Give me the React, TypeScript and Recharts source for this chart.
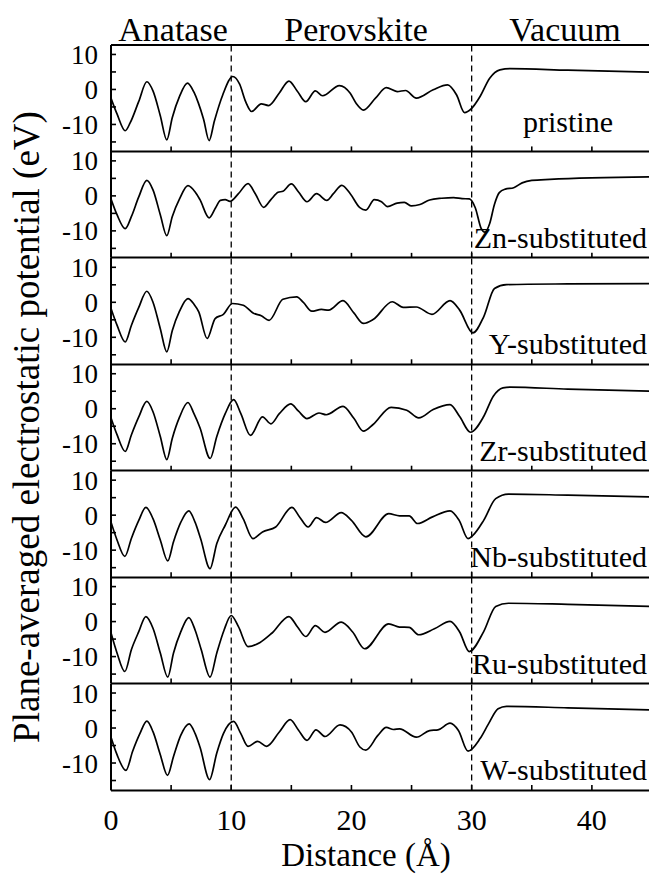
import { LineChart, Line, XAxis, YAxis, ReferenceLine } from 'recharts';

const FONT = '"Liberation Serif", "Times New Roman", serif';

const X_TICKS = [0, 5, 10, 15, 20, 25, 30, 35, 40, 45];
const Y_TICKS = [-15, -10, -5, 0, 5, 10];
const INTERFACES = [10, 30];
const REGIONS = ['Anatase', 'Perovskite', 'Vacuum'];
const PANEL_LABELS = [
  'pristine',
  'Zn-substituted',
  'Y-substituted',
  'Zr-substituted',
  'Nb-substituted',
  'Ru-substituted',
  'W-substituted',
];

// [distance (Å), potential (eV)]
const pristine: [number, number][] = [
  [0, -2.5], [0.5, -7], [1.18, -11.8], [1.6, -9.5], [2.3, -3.5], [2.98, 2.2], [3.5, -0.5],
  [4.1, -7.5], [4.64, -14.4], [5.1, -8], [5.7, -2], [6.36, 1.8], [6.9, -0.8], [7.27, -3.9],
  [7.7, -8.5], [8.16, -14.6], [8.6, -9], [9.3, -1.5], [10.13, 3.7], [10.7, 1.5], [11.2, -3.5],
  [11.7, -6.3], [12.5, -4.1], [13.1, -4.6], [14.0, -1.0], [14.8, 2.4], [15.5, -0.5], [16.2, -3.5],
  [17.0, -0.4], [17.6, -1.8], [19.0, 1.1], [19.9, -1.1], [20.4, -4], [21.0, -5.9], [22.0, -2.5],
  [22.9, 0.5], [23.8, -0.6], [24.5, -0.3], [25.4, -2.5], [26.8, -0.1], [28.0, 1.3], [28.75, -1.6],
  [29.4, -6.6], [30.0, -5.4], [30.7, -2.0], [31.5, 3.2], [32.35, 5.6], [33.2, 5.95], [38, 5.5],
  [45, 4.9],
];

const znSub: [number, number][] = [
  [0, -1], [0.5, -5.5], [1.18, -9.5], [1.7, -6], [2.3, -0.5], [2.98, 4.3], [3.5, 1.5],
  [4.1, -5.5], [4.64, -11.5], [5.1, -6], [5.7, -1], [6.4, 2.8], [7.0, 1.0], [7.4, -1.2],
  [8.16, -6.4], [8.7, -3.5], [9.1, -1.4], [9.5, -1.2], [9.9, -1.7], [10.6, 0.5], [11.4, 3.4],
  [12.0, 0.5], [12.7, -3.4], [13.3, -1.2], [13.9, 0.9], [14.3, 1.2], [15.0, 3.3], [15.6, 1.0],
  [16.3, -1.8], [17.1, 0.5], [17.95, -1.4], [18.5, 0.5], [19.2, 2.9], [19.9, 0.5], [20.7, -3.5],
  [21.2, -4.2], [21.9, -1.2], [22.5, -1.8], [23.0, -3.2], [23.8, -2.2], [24.4, -2.0], [25.0, -3.0],
  [25.7, -2.6], [26.5, -1.3], [27.5, -0.8], [28.5, -0.6], [29.2, -0.9], [29.8, -1.0], [30.3, -3.5],
  [30.8, -9.5], [31.1, -10.5], [31.5, -8], [31.9, -2.5], [32.3, 0.8], [32.8, 1.8], [33.5, 2.2],
  [34.2, 3.6], [35.0, 4.3], [36.5, 4.6], [45, 5.3],
];

const ySub: [number, number][] = [
  [0, -1.7], [0.5, -6.5], [1.18, -11.3], [1.7, -6.5], [2.3, -1.5], [2.98, 3.2], [3.5, 0],
  [4.1, -7.5], [4.64, -14.1], [5.1, -8], [5.7, -2.5], [6.4, 1.1], [6.9, -0.5], [7.3, -2.7],
  [8.0, -10.3], [8.66, -4.6], [9.35, -3.4], [10.1, -0.3], [11.0, -0.8], [11.85, -3.1], [12.5, -3.8],
  [13.15, -5.1], [14.3, 0.9], [15.45, 1.6], [16.0, 0.0], [16.7, -2.5], [17.5, -2.0], [18.1, -2.2],
  [19.3, 0.5], [20.2, -3.0], [21.0, -6.0], [21.8, -4.9], [23.4, 0.2], [24.3, -1.4], [25.4, -1.3],
  [26.7, -3.4], [28.2, 0.5], [29.0, -2.2], [30.1, -8.7], [31.0, -4.1], [31.9, 4.0], [32.9, 5.1],
  [38, 5.3], [45, 5.4],
];

const zrSub: [number, number][] = [
  [0, -2.7], [0.5, -7.5], [1.18, -12.3], [1.7, -7.5], [2.3, -2.5], [2.98, 2.0], [3.5, -1],
  [4.1, -8], [4.64, -14.6], [5.1, -8.5], [5.7, -2.5], [6.4, 1.7], [6.9, -1.5], [7.4, -5.5],
  [8.25, -14.3], [8.8, -8], [9.5, -1.5], [10.2, 2.5], [10.8, -1.5], [11.6, -7.7], [12.6, -2.4],
  [13.3, -4.4], [14.0, -1.5], [14.95, 1.3], [15.6, -0.8], [16.3, -2.9], [17.3, -1.3], [17.9, -1.8],
  [19.3, 0.6], [20.2, -2.8], [21.0, -6.5], [21.8, -4.6], [23.3, 0.3], [24.6, -0.5], [25.6, -2.7],
  [26.8, -0.3], [28.2, 1.1], [29.0, -2.3], [29.9, -6.8], [31.0, -2.3], [31.8, 3.5], [32.6, 5.9],
  [33.2, 6.1], [38, 5.5], [45, 4.9],
];

const nbSub: [number, number][] = [
  [0, -1.9], [0.5, -7], [1.15, -11.7], [1.7, -6.5], [2.3, -1.5], [2.9, 2.3], [3.5, -1],
  [4.1, -7], [4.72, -13], [5.2, -7.5], [5.8, -2], [6.47, 1.3], [7.0, -2], [7.45, -6.6],
  [8.24, -15.2], [8.8, -8], [9.5, -2.8], [10.37, 2.4], [11.0, -1], [11.8, -6.6], [12.6, -4.7],
  [13.7, -3.3], [15.05, 2.3], [15.7, -0.5], [16.4, -3.3], [17.1, -0.6], [17.84, -2], [19.15, 0.8],
  [20.0, -1.4], [21.2, -6.1], [23.1, 0.5], [24.0, -0.1], [24.8, -0.1], [25.5, -2.3], [26.75, -0.4],
  [28.2, 1.3], [28.96, -1.4], [29.7, -6.6], [30.1, -5.7], [31.0, -1.4], [32.0, 4.8], [33.06, 6.1],
  [38, 5.8], [45, 5.3],
];

const ruSub: [number, number][] = [
  [0, -3.3], [0.5, -9], [1.15, -14.3], [1.7, -8], [2.3, -3], [2.9, 1.4], [3.5, -2],
  [4.1, -9], [4.72, -15.9], [5.2, -9], [5.8, -3], [6.47, 1.1], [7.0, -2.5], [7.5, -8],
  [8.24, -15.9], [8.8, -9], [9.4, -2.5], [10.0, 1.7], [10.6, -1.5], [11.4, -7.2], [12.4, -6],
  [13.4, -3.3], [14.8, 1.4], [15.5, -1.5], [16.2, -4.3], [17.0, -1.2], [17.8, -3.1], [19.15, -0.2],
  [20.1, -3], [21.1, -7.8], [23.1, -0.7], [24.0, -1.6], [24.8, -1.7], [25.6, -3.8], [26.9, -2.1],
  [28.2, 0], [29.0, -3], [29.8, -8.6], [31.0, -2.9], [32.0, 4.3], [33.06, 5.2], [38, 4.9],
  [45, 4.3],
];

const wSub: [number, number][] = [
  [0, -2.5], [0.5, -7.5], [1.24, -12], [1.8, -6.5], [2.4, -1.5], [2.98, 2.1], [3.5, -1],
  [4.1, -7.5], [4.7, -13.4], [5.2, -8], [5.8, -2], [6.5, 1.3], [7.0, -1.5], [7.4, -5.3],
  [8.2, -14.6], [8.8, -7], [9.35, -1.5], [10.2, 2.0], [10.8, -1.5], [11.4, -5.1], [12.2, -3.7],
  [12.95, -5.1], [14.0, -1], [14.9, 2.5], [15.6, -0.5], [16.3, -3.4], [17.05, -0.4], [17.8, -2.3],
  [19.05, 1.0], [20.0, -1], [20.7, -5.3], [21.2, -6.2], [22.2, -2], [22.9, 0.3], [23.5, -0.3],
  [24.0, -0.1], [25.4, -2.5], [26.5, -0.6], [27.2, -0.4], [28.2, 1.5], [28.9, -0.6], [29.7, -6.5],
  [30.7, -2.9], [31.4, 1.3], [32.2, 5.6], [32.9, 6.3], [38, 5.9], [45, 5.3],
];

const SERIES = [pristine, znSub, ySub, zrSub, nbSub, ruSub, wSub];

const X_MAX = 45;
const Y_MIN = -17.71;
const Y_MAX = 12.7;
const PLOT_TOP = 45;
const PLOT_BOTTOM = 790;
const PANEL_H = (PLOT_BOTTOM - PLOT_TOP) / SERIES.length;
const AXIS_LEFT = 111;
const CHART_W = 652;
const X_AXIS_H = 50;
const PAD = 20; // room above/below each panel so edge tick labels aren't clipped
const TICK_LEN = 5;

const axisStroke = { stroke: '#000', strokeWidth: 2 };

// same linear mapping the panels use, for the inward tick marks
const xPx = (x: number) => AXIS_LEFT + (x / X_MAX) * (CHART_W - AXIS_LEFT);
const yPx = (i: number, y: number) => PLOT_TOP + i * PANEL_H + ((Y_MAX - y) / (Y_MAX - Y_MIN)) * PANEL_H;

function Panel({ points, index }: { points: [number, number][]; index: number }) {
  const isBottom = index === SERIES.length - 1;
  const data = points.map(([x, v]) => ({ x, v }));
  const height = PAD + PANEL_H + (isBottom ? X_AXIS_H : PAD);

  return (
    <div style={{ position: 'absolute', left: 0, top: PLOT_TOP + index * PANEL_H - PAD }}>
      <LineChart
        width={CHART_W}
        height={height}
        data={data}
        margin={{ top: PAD, right: 0, bottom: isBottom ? 0 : PAD, left: 0 }}
      >
        <XAxis
          type="number"
          dataKey="x"
          domain={[0, X_MAX]}
          allowDataOverflow
          ticks={X_TICKS}
          interval={0}
          tickMargin={12}
          height={isBottom ? X_AXIS_H : 0}
          tick={isBottom ? { fontSize: 30, fill: '#000', fontFamily: FONT } : false}
          tickFormatter={(v: number) => (v % 10 === 0 ? String(v) : '')}
          axisLine={false}
          tickLine={false}
        />
        <YAxis
          type="number"
          domain={[Y_MIN, Y_MAX]}
          allowDataOverflow
          ticks={Y_TICKS}
          interval={0}
          width={AXIS_LEFT}
          tickMargin={7}
          tick={{ fontSize: 27, fill: '#000', fontFamily: FONT }}
          tickFormatter={(v: number) => (v % 10 === 0 ? String(v) : '')}
          axisLine={false}
          tickLine={false}
        />
        {/* panel frame */}
        <ReferenceLine x={0} {...axisStroke} />
        <ReferenceLine y={Y_MIN} {...axisStroke} />
        {index === 0 && <ReferenceLine y={Y_MAX} {...axisStroke} />}
        {INTERFACES.map((x) => (
          <ReferenceLine key={x} x={x} stroke="#000" strokeWidth={1.3} strokeDasharray="6 4" />
        ))}
        <Line
          type="monotone"
          dataKey="v"
          stroke="#000"
          strokeWidth={1.7}
          dot={false}
          isAnimationActive={false}
        />
      </LineChart>
    </div>
  );
}

const REGION_X = [173, 356, 565];

export default function App() {
  return (
    <div
      style={{
        position: 'absolute',
        left: 0,
        top: 0,
        width: 649,
        height: 877,
        overflow: 'hidden',
        background: '#fff',
        fontFamily: FONT,
      }}
    >
      {SERIES.map((points, i) => (
        <Panel key={PANEL_LABELS[i]} points={points} index={i} />
      ))}
      <svg
        width={649}
        height={877}
        style={{ position: 'absolute', left: 0, top: 0, pointerEvents: 'none' }}
        fontFamily={FONT}
        fill="#000"
      >
        {/* inward tick marks on each panel's left and bottom edges */}
        <g stroke="#000" strokeWidth={1.6}>
          {SERIES.map((_, i) => (
            <g key={i}>
              {Y_TICKS.map((t) => (
                <line key={`y${t}`} x1={AXIS_LEFT} x2={AXIS_LEFT + TICK_LEN} y1={yPx(i, t)} y2={yPx(i, t)} />
              ))}
              {X_TICKS.map((t) => (
                <line
                  key={`x${t}`}
                  x1={xPx(t)}
                  x2={xPx(t)}
                  y1={yPx(i, Y_MIN)}
                  y2={yPx(i, Y_MIN) - TICK_LEN}
                />
              ))}
            </g>
          ))}
        </g>
        {REGIONS.map((name, i) => (
          <text key={name} x={REGION_X[i]} y={41} fontSize={34} textAnchor="middle">
            {name}
          </text>
        ))}
        <text x={39} y={427} fontSize={37} textAnchor="middle" transform="rotate(-90 39 427)">
          Plane-averaged electrostatic potential (eV)
        </text>
        <text x={366} y={866} fontSize={33} textAnchor="middle">
          Distance (Å)
        </text>
        {PANEL_LABELS.map((label, i) => {
          const bottom = PLOT_TOP + (i + 1) * PANEL_H;
          return i === 0 ? (
            <text key={label} x={568} y={132} fontSize={30} textAnchor="middle">
              {label}
            </text>
          ) : (
            <text key={label} x={647} y={bottom - 10} fontSize={30} textAnchor="end">
              {label}
            </text>
          );
        })}
      </svg>
    </div>
  );
}
